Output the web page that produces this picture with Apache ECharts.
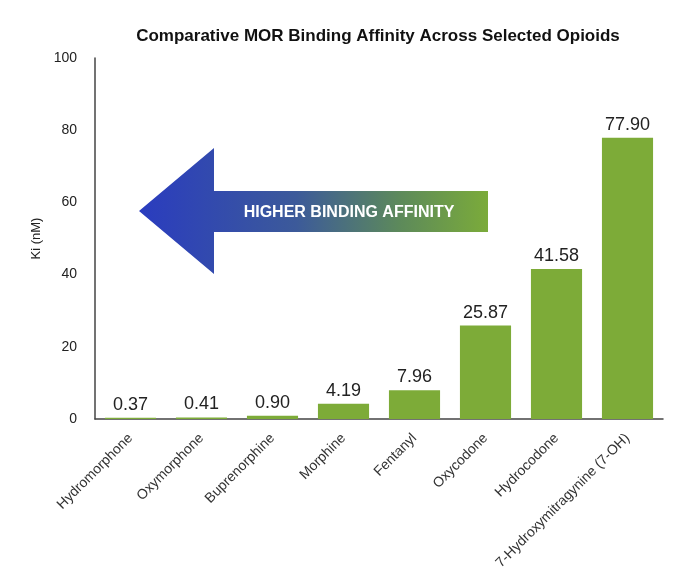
<!DOCTYPE html>
<html>
<head>
<meta charset="utf-8">
<script src="https://cdn.jsdelivr.net/npm/echarts@6/dist/echarts.min.js"></script>
<style>
  html, body { margin: 0; padding: 0; background: #fff; }
  #container { width: 680px; height: 582px; }
</style>
</head>
<body>
<div id="container"></div>
<script>
// chart data
var opioids = ['Hydromorphone', 'Oxymorphone', 'Buprenorphine', 'Morphine', 'Fentanyl', 'Oxycodone', 'Hydrocodone', '7-Hydroxymitragynine (7-OH)'];
var kiValues = [0.37, 0.41, 0.90, 4.19, 7.96, 25.87, 41.58, 77.90];
var yTicks = [0, 20, 40, 60, 80, 100];

var dom = document.getElementById('container');
var myChart = echarts.init(dom);
var font = 'Liberation Sans, Arial, Helvetica, sans-serif';

var option = {
  backgroundColor: '#fff',
  animation: false,
  textStyle: { fontFamily: font },
  title: {
    text: 'Comparative MOR Binding Affinity Across Selected Opioids',
    left: 373,
    textAlign: 'center',
    top: 23,
    textStyle: { fontSize: 17, fontWeight: 'bold', color: '#111', fontFamily: font }
  },
  grid: { left: 95, right: 17, top: 58, bottom: 163 },
  xAxis: {
    type: 'category',
    data: opioids,
    axisLine: { lineStyle: { color: '#444', width: 1.5 } },
    axisTick: { show: false },
    axisLabel: { rotate: 45, fontSize: 14, color: '#333', margin: 17, interval: 0 }
  },
  yAxis: {
    type: 'value',
    min: yTicks[0],
    max: yTicks[yTicks.length - 1],
    interval: 20,
    name: 'Ki (nM)',
    nameLocation: 'middle',
    nameRotate: 90,
    nameGap: 51,
    nameTextStyle: { fontSize: 13, color: '#222' },
    axisLine: { show: true, lineStyle: { color: '#444', width: 1.5 } },
    axisTick: { show: false },
    splitLine: { show: false },
    axisLabel: { fontSize: 14, color: '#222', margin: 18 }
  },
  series: [{
    type: 'bar',
    data: kiValues,
    barCategoryGap: '28%',
    itemStyle: { color: '#7dab38' },
    label: {
      show: true,
      position: 'top',
      distance: 4,
      fontSize: 18,
      color: '#222',
      formatter: function (p) { return p.value.toFixed(2); }
    }
  }],
  graphic: [{
    type: 'polygon',
    silent: true,
    shape: {
      points: [[139, 211], [214, 148], [214, 191], [488, 191], [488, 232], [214, 232], [214, 274]]
    },
    style: {
      fill: new echarts.graphic.LinearGradient(0, 0, 1, 0, [
        { offset: 0, color: '#2a3cbf' },
        { offset: 0.45, color: '#3c5a9a' },
        { offset: 0.75, color: '#5d8a5a' },
        { offset: 1, color: '#7bab3a' }
      ])
    }
  }, {
    type: 'text',
    silent: true,
    x: 349,
    y: 213,
    style: {
      text: 'HIGHER BINDING AFFINITY',
      fill: '#fff',
      font: 'bold 16px ' + font,
      textAlign: 'center',
      textVerticalAlign: 'middle'
    }
  }]
};

myChart.setOption(option, true);
</script>
</body>
</html>
